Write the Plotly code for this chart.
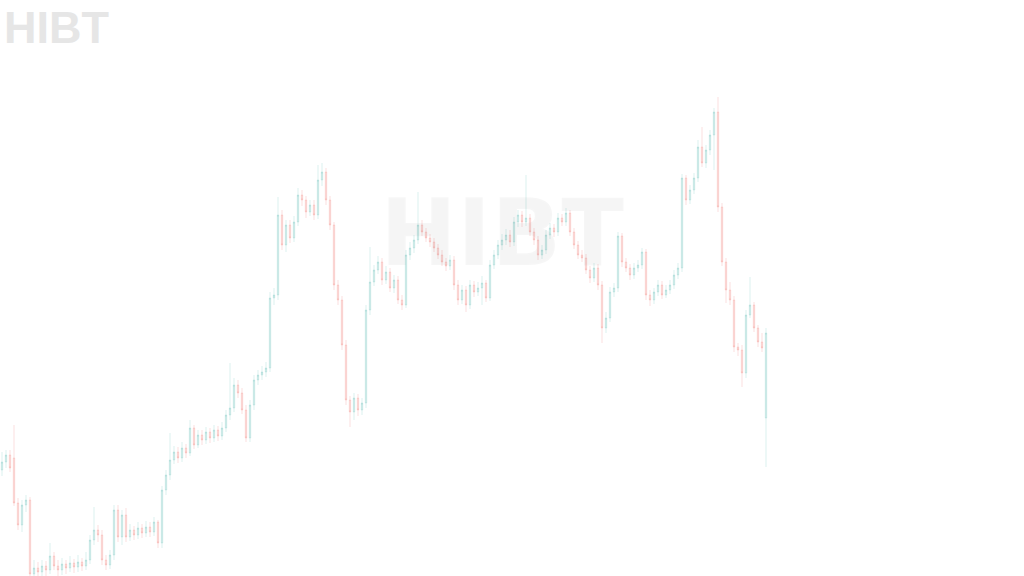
import plotly.graph_objects as go

# Candle index (one bar per period)
idx = list(range(192))

open_ = [130,138,145,142,97,75,95,100,26,32,28,34,30,44,34,30,36,32,37,33,38,34,40,60,70,65,40,35,45,90,
         63,85,63,70,65,72,67,73,68,78,57,110,125,140,148,142,152,147,172,155,165,160,168,162,170,164,172,185,192,215,
         207,190,162,195,220,225,228,232,302,305,385,355,375,362,378,405,400,388,395,385,420,428,400,375,315,300,255,200,188,202,
         190,197,290,318,330,338,320,328,312,320,300,295,345,352,360,375,368,362,358,352,345,338,334,340,315,300,310,295,315,308,
         312,317,302,335,345,355,360,365,358,378,385,378,382,368,360,345,350,365,372,368,382,378,387,368,355,345,342,330,322,332,
         315,272,282,308,312,364,338,332,325,332,335,348,305,300,308,315,305,310,315,325,332,422,400,410,422,453,437,450,465,488,
         393,338,310,300,253,250,227,285,295,272,258,182]
high = [148,150,150,175,102,100,105,103,40,38,40,39,57,48,40,42,40,44,41,45,42,48,65,93,75,70,45,50,95,95,
        90,92,76,74,78,76,79,78,83,80,114,130,167,154,153,158,156,180,175,170,170,173,172,175,174,178,190,237,222,220,
        212,195,200,225,230,234,238,308,312,403,390,380,380,384,412,410,404,400,400,435,437,432,404,378,320,304,260,204,207,206,
        202,295,353,335,344,342,334,332,325,324,305,350,358,365,408,380,372,366,362,356,350,342,345,344,320,315,314,320,319,318,
        324,320,340,350,360,366,371,370,383,390,389,425,386,372,364,355,370,377,376,387,386,392,390,372,359,350,346,334,337,336,
        319,288,313,317,368,367,342,336,337,340,352,351,310,312,320,319,315,320,330,337,426,425,415,427,460,473,455,470,492,503,
        397,342,318,304,257,255,290,323,298,275,267,272]
low = [124,132,128,94,70,68,88,20,20,20,22,22,26,30,24,25,26,28,27,28,29,30,36,55,58,35,30,31,40,58,
       55,58,59,60,61,62,63,63,64,52,52,105,120,136,137,138,142,144,151,152,155,156,157,158,159,160,168,180,188,202,
       186,158,158,190,215,220,223,228,295,300,350,348,357,358,374,394,382,384,380,381,414,395,370,310,295,250,195,173,180,184,
       185,192,285,314,326,315,316,308,307,296,290,292,340,347,356,364,358,353,348,341,334,329,330,310,295,296,288,291,303,304,
       295,298,299,331,341,350,355,353,354,373,373,374,364,355,340,341,346,361,363,364,374,374,364,351,341,338,326,317,318,310,
       257,267,278,303,308,333,328,320,321,328,331,300,294,296,304,301,302,306,311,321,328,395,396,406,418,433,432,445,430,388,
       334,297,295,248,244,213,222,282,268,253,248,133]
close = [138,145,132,97,75,95,100,26,32,28,34,30,44,34,30,36,32,37,33,38,34,40,60,70,65,40,35,45,90,63,
         85,63,70,65,72,67,73,68,78,57,110,125,140,148,142,152,147,172,155,165,160,168,162,170,164,172,185,192,215,207,
         190,162,195,220,225,228,232,302,305,385,355,375,362,378,405,400,388,395,385,420,428,400,375,315,300,255,200,188,202,190,
         197,290,318,330,338,320,328,312,320,300,295,345,352,360,375,368,362,358,352,345,338,334,340,315,300,310,295,315,308,312,
         317,302,335,345,355,360,365,358,378,385,378,382,368,360,345,350,365,372,368,382,378,387,368,355,345,342,330,322,332,315,
         272,282,308,312,364,338,332,325,332,335,348,305,300,308,315,305,310,315,325,332,422,400,410,422,453,437,450,465,488,393,
         338,310,300,253,250,227,285,295,272,258,252,267]

UP = "rgba(38,166,154,0.17)"
DOWN = "rgba(239,83,80,0.18)"

fig = go.Figure(
    go.Candlestick(
        x=idx, open=open_, high=high, low=low, close=close,
        increasing=dict(line=dict(color=UP, width=1), fillcolor=UP),
        decreasing=dict(line=dict(color=DOWN, width=1), fillcolor=DOWN),
        whiskerwidth=0,
        showlegend=False,
        hoverinfo="skip",
    )
)

fig.update_layout(
    width=1024, height=576,
    margin=dict(l=0, r=0, t=0, b=0),
    paper_bgcolor="white", plot_bgcolor="white",
    showlegend=False,
    boxgap=0.5,
    xaxis=dict(range=[-0.5, 255.5], visible=False, rangeslider=dict(visible=False), fixedrange=True),
    yaxis=dict(range=[24, 600], visible=False, fixedrange=True),
    annotations=[
        dict(text="<b>HIBT</b>", xref="paper", yref="paper", x=0.002, y=1.0,
             xanchor="left", yanchor="top", showarrow=False,
             font=dict(family="Liberation Sans", size=45, color="#e6e6e6")),
        dict(text="<b>HIBT</b>", xref="paper", yref="paper", x=0.490, y=0.595,
             xanchor="center", yanchor="middle", showarrow=False,
             font=dict(family="DejaVu Sans", size=92, color="rgba(0,0,0,0.035)",
                       shadow="0px 0px 1px rgba(0,0,0,0.12)")),
    ],
)

fig.write_html("out.html", config={"displayModeBar": False},
               post_script="document.body.style.margin='0';")
